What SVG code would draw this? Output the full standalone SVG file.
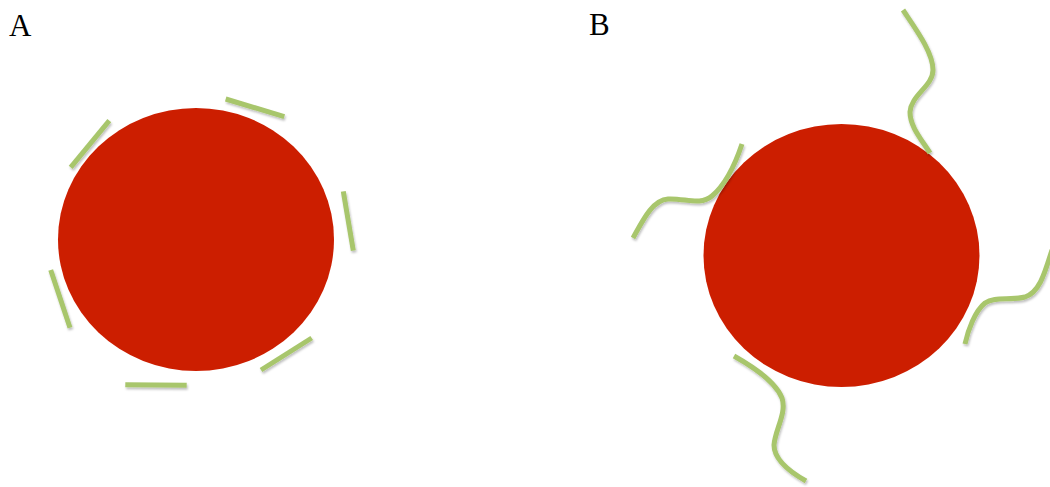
<svg xmlns="http://www.w3.org/2000/svg" width="1050" height="487" viewBox="0 0 1050 487">
<style>
.cell{fill:#cc1e00}
.chain{fill:none;stroke:#a8c66c;stroke-width:5;stroke-linecap:butt;filter:url(#sh)}
.lbl{font-family:"Liberation Serif","Times New Roman",serif;font-size:31px;fill:#000}
</style>
<defs>
<filter id="sh" filterUnits="userSpaceOnUse" x="0" y="0" width="1050" height="487">
<feDropShadow dx="1" dy="2" stdDeviation="1.2" flood-color="#000" flood-opacity="0.25"/>
</filter>
</defs>
<rect width="1050" height="487" fill="#fff"/>
<g id="labelA"><text class="lbl" x="9" y="36">A</text></g>
<g id="labelB"><text class="lbl" x="589" y="35">B</text></g>
<g id="particleA">
<ellipse class="cell" cx="196" cy="239.5" rx="138" ry="131.5"/>
</g>
<g id="particleB">
<ellipse class="cell" cx="841.5" cy="255.5" rx="138" ry="131.5"/>
</g>
<g id="chains">
<line class="chain" x1="225.7" y1="99" x2="284.3" y2="116.7"/>
<line class="chain" x1="109.3" y1="120.7" x2="70.7" y2="167.3"/>
<line class="chain" x1="343.3" y1="191.3" x2="353.3" y2="250.7"/>
<line class="chain" x1="50.7" y1="270" x2="70" y2="327.7"/>
<line class="chain" x1="311.7" y1="338" x2="261" y2="370"/>
<line class="chain" x1="125.3" y1="384.7" x2="186.7" y2="385.3"/>
<path class="chain" d="M903,10 C915,28 933,52 933,70 C933,86 911,95 910,112 C910,127 922,140 930,153"/>
<path class="chain" d="M742,144 C735,165 725,185 712,196 C700,206 685,198 668,199 C652,200 642,222 633,238"/>
<path class="chain" d="M1052,250 C1045,272 1040,292 1025,297 C1010,301 995,296 985,303 C975,311 968,330 965,344"/>
<path class="chain" d="M734,356 C750,365 775,380 782,398 C787,413 775,430 774,445 C774,460 790,472 806,481"/>
</g>
</svg>
